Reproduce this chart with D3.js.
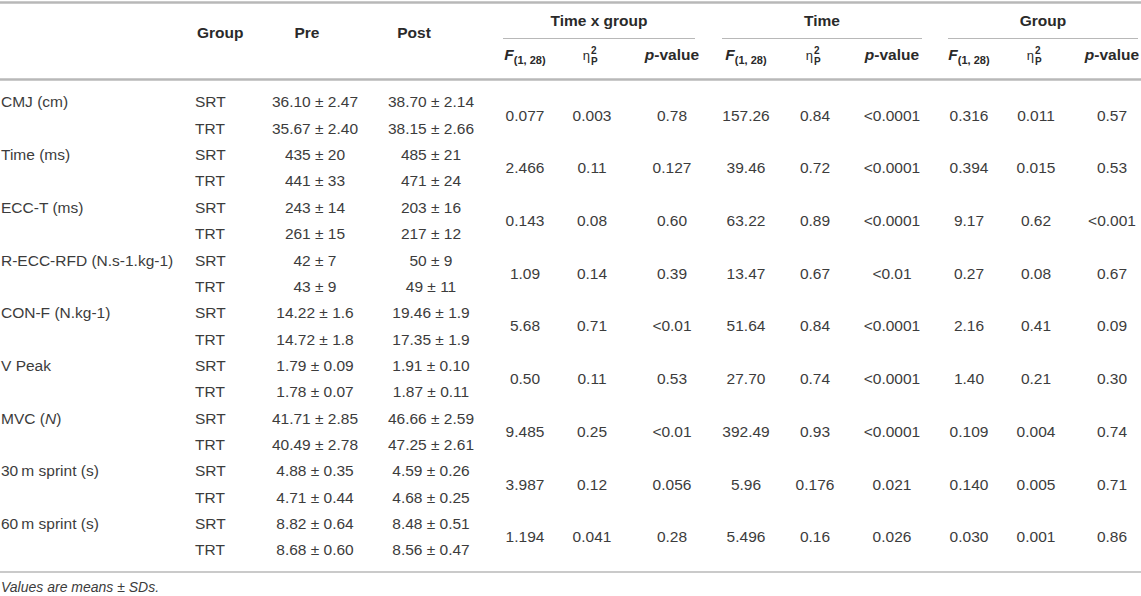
<!DOCTYPE html>
<html><head><meta charset="utf-8">
<script src="https://cdn.jsdelivr.net/npm/d3@7"></script>
<style>
html,body{margin:0;padding:0;background:#fff;}
text{font-family:"Liberation Sans",Arial,Helvetica,sans-serif;}
</style></head>
<body><svg id="c" width="1141" height="596"></svg>
<script>
const measures = ["CMJ (cm)","Time (ms)","ECC-T (ms)","R-ECC-RFD (N.s-1.kg-1)","CON-F (N.kg-1)","V Peak","MVC (N)","30\u2009m sprint (s)","60\u2009m sprint (s)"];
const groups = ["SRT","TRT"];
const preSRT = ["36.10 ± 2.47","435 ± 20","243 ± 14","42 ± 7","14.22 ± 1.6","1.79 ± 0.09","41.71 ± 2.85","4.88 ± 0.35","8.82 ± 0.64"];
const preTRT = ["35.67 ± 2.40","441 ± 33","261 ± 15","43 ± 9","14.72 ± 1.8","1.78 ± 0.07","40.49 ± 2.78","4.71 ± 0.44","8.68 ± 0.60"];
const postSRT = ["38.70 ± 2.14","485 ± 21","203 ± 16","50 ± 9","19.46 ± 1.9","1.91 ± 0.10","46.66 ± 2.59","4.59 ± 0.26","8.48 ± 0.51"];
const postTRT = ["38.15 ± 2.66","471 ± 24","217 ± 12","49 ± 11","17.35 ± 1.9","1.87 ± 0.11","47.25 ± 2.61","4.68 ± 0.25","8.56 ± 0.47"];
const txgF = ["0.077","2.466","0.143","1.09","5.68","0.50","9.485","3.987","1.194"];
const txgEta = ["0.003","0.11","0.08","0.14","0.71","0.11","0.25","0.12","0.041"];
const txgP = ["0.78","0.127","0.60","0.39","<0.01","0.53","<0.01","0.056","0.28"];
const timeF = ["157.26","39.46","63.22","13.47","51.64","27.70","392.49","5.96","5.496"];
const timeEta = ["0.84","0.72","0.89","0.67","0.84","0.74","0.93","0.176","0.16"];
const timeP = ["<0.0001","<0.0001","<0.0001","<0.01","<0.0001","<0.0001","<0.0001","0.021","0.026"];
const grpF = ["0.316","0.394","9.17","0.27","2.16","1.40","0.109","0.140","0.030"];
const grpEta = ["0.011","0.015","0.62","0.08","0.41","0.21","0.004","0.005","0.001"];
const grpP = ["0.57","0.53","<0.001","0.67","0.09","0.30","0.74","0.71","0.86"];
const effectHeads = ["Time x group","Time","Group"];
const footnote = "Values are means ± SDs.";

const svg = d3.select("#c");
const W = 1141;
const FS = 15.5;
const bodyCol = "#3c3c3c", headCol = "#2a2a2a", ruleCol = "#b8b8b8";

// row scale (18 sub-rows)
const nRows = measures.length * 2;
const y = d3.scalePoint().domain(d3.range(nRows)).range([102, 550]);
const yMerged = i => (y(2*i) + y(2*i+1)) / 2;

// column centres
const col = {label:1, group:195, pre:315, post:431,
  effect:[[525,592,672],[746,815,892],[969,1036,1112]]};
const effRules = [[503,695],[722,922],[948,1138]];
const subY = 55;

// rules
function rule(x1,x2,yy,w){ svg.append("line").attr("x1",x1).attr("x2",x2).attr("y1",yy).attr("y2",yy)
  .attr("stroke",ruleCol).attr("stroke-width",w); }
rule(0,W,2.5,2.5);
rule(0,W,79.5,2.5);
rule(0,W,572,1.3);
effRules.forEach(r=>rule(r[0],r[1],38.5,1.2));

// header
const hd = svg.append("g").attr("fill",headCol).attr("font-weight","bold").attr("font-size",FS);
hd.append("text").attr("x",197).attr("y",33).attr("dy","0.35em").text("Group");
hd.append("text").attr("x",307).attr("y",33).attr("dy","0.35em").attr("text-anchor","middle").text("Pre");
hd.append("text").attr("x",414).attr("y",33).attr("dy","0.35em").attr("text-anchor","middle").text("Post");
effectHeads.forEach((h,k)=>{
  const cx = (effRules[k][0]+effRules[k][1])/2;
  hd.append("text").attr("x",cx).attr("y",21).attr("dy","0.35em").attr("text-anchor","middle").text(h);
  const [cF,cE,cP] = col.effect[k];
  const f = hd.append("text").attr("x",cF).attr("y",subY).attr("dy","0.35em").attr("text-anchor","middle");
  f.append("tspan").attr("font-style","italic").text("F");
  f.append("tspan").attr("font-size",11).attr("dy",4).text("(1, 28)");
  // eta squared partial
  hd.append("text").attr("x",cE-2).attr("y",subY).attr("dy","0.35em").attr("text-anchor","end")
    .attr("font-weight","normal").attr("font-family","DejaVu Serif, serif").attr("font-size",13).text("η");
  hd.append("text").attr("x",cE-1).attr("y",subY-5).attr("dy","0.35em").attr("font-size",10).text("2");
  hd.append("text").attr("x",cE-1).attr("y",subY+6).attr("dy","0.35em").attr("font-size",10).text("P");
  const p = hd.append("text").attr("x",cP).attr("y",subY).attr("dy","0.35em").attr("text-anchor","middle");
  p.append("tspan").attr("font-style","italic").text("p");
  p.append("tspan").text("-value");
});

// body
const bd = svg.append("g").attr("fill",bodyCol).attr("font-size",FS);
measures.forEach((m,i)=>{
  const t = bd.append("text").attr("x",col.label).attr("y",y(2*i)).attr("dy","0.35em");
  if (m === "MVC (N)") { t.append("tspan").text("MVC ("); t.append("tspan").attr("font-style","italic").text("N"); t.append("tspan").text(")"); }
  else t.text(m);
  groups.forEach((g,j)=>{
    bd.append("text").attr("x",col.group).attr("y",y(2*i+j)).attr("dy","0.35em").text(g);
  });
  [[preSRT,preTRT,col.pre],[postSRT,postTRT,col.post]].forEach(([a,b,cx])=>{
    bd.append("text").attr("x",cx).attr("y",y(2*i)).attr("dy","0.35em").attr("text-anchor","middle").text(a[i]);
    bd.append("text").attr("x",cx).attr("y",y(2*i+1)).attr("dy","0.35em").attr("text-anchor","middle").text(b[i]);
  });
  [[txgF,txgEta,txgP],[timeF,timeEta,timeP],[grpF,grpEta,grpP]].forEach((arrs,k)=>{
    arrs.forEach((arr,c)=>{
      bd.append("text").attr("x",col.effect[k][c]).attr("y",yMerged(i)).attr("dy","0.35em")
        .attr("text-anchor","middle").text(arr[i]);
    });
  });
});

svg.append("text").attr("x",1).attr("y",587).attr("dy","0.35em").attr("font-size",14)
  .attr("font-style","italic").attr("fill",bodyCol).text(footnote);
</script></body></html>
